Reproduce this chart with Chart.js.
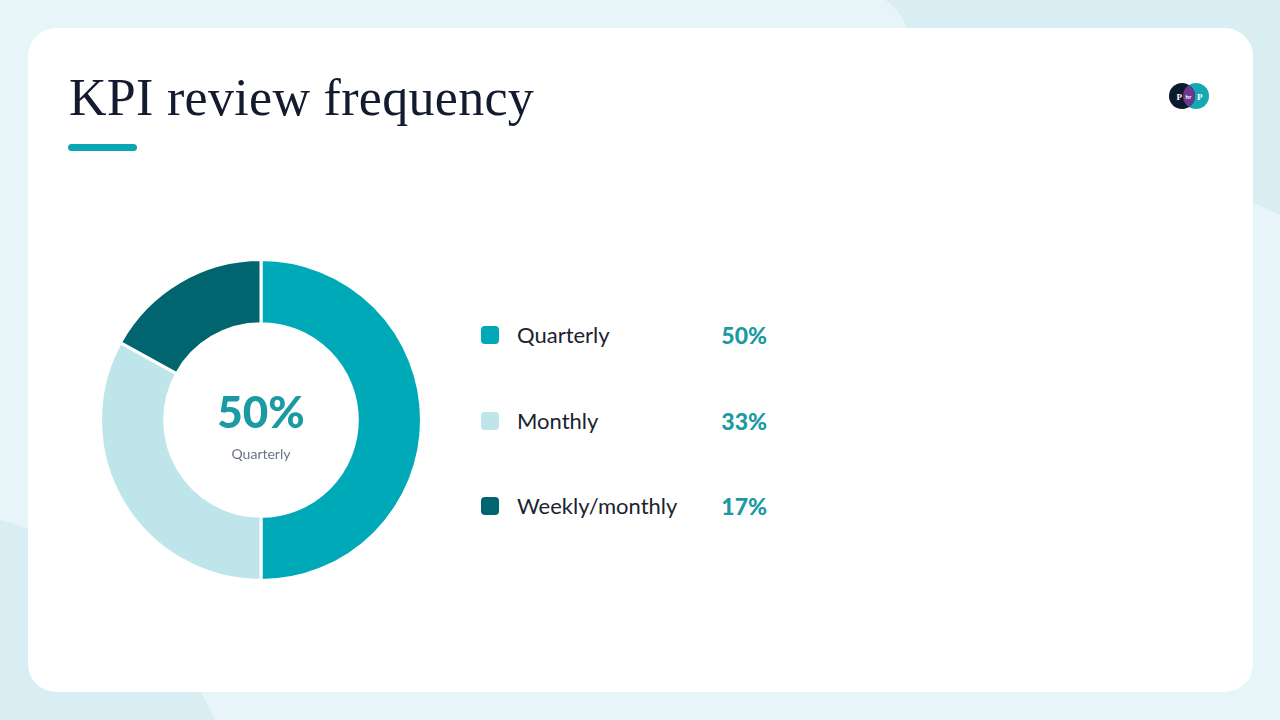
<!DOCTYPE html>
<html>
<head>
<meta charset="utf-8">
<script src="https://cdn.jsdelivr.net/npm/chart.js@4.4.1/dist/chart.umd.min.js"></script>
<style>
  html, body { margin: 0; padding: 0; }
  body { width: 1280px; height: 720px; position: relative; overflow: hidden; background: #e9f5f8; font-family: 'Lato', sans-serif; }
  #bg { position: absolute; left: 0; top: 0; }
  #card { position: absolute; left: 28px; top: 28px; width: 1225px; height: 664px; background: #fff; border-radius: 28px; }
  #title { position: absolute; left: 69px; top: 66px; margin: 0; font-family: 'Liberation Serif', serif; font-weight: 400; font-size: 52px; line-height: 64px; color: #131b2e; letter-spacing: 0.3px; }
  #bar { position: absolute; left: 68px; top: 144px; width: 69px; height: 7px; border-radius: 4px; background: #0ba6b5; }
  #logo { position: absolute; left: 1166px; top: 82px; }
  #chartBox { position: absolute; left: 99px; top: 258px; width: 324px; height: 324px; }
  #center { position: absolute; left: 161px; top: 387px; width: 200px; text-align: center; pointer-events: none; }
  #centerVal { font-weight: 900; font-size: 44px; line-height: 48px; color: #1a9aa3; }
  #centerLab { font-size: 14px; line-height: 20px; color: #6b7383; margin-top: 9px; }
  .row { position: absolute; left: 481px; width: 286px; height: 30px; }
  .sw { position: absolute; left: 0; top: 6px; width: 18px; height: 18px; border-radius: 4px; }
  .lab { position: absolute; left: 36px; top: 0; font-size: 22px; line-height: 30px; color: #1b2230; }
  .val { position: absolute; right: 0; top: 0; font-size: 23px; font-weight: 900; line-height: 30px; color: #1a9aa3; }
</style>
</head>
<body>
<svg id="bg" width="1280" height="720">
  <rect width="1280" height="720" fill="#e8f5f8"/>
  <path d="M885,0 C900,10 905,20 910,40 L1280,215 L1280,0 Z" fill="#d8eef3"/>
  <path d="M0,520 C80,540 160,600 215,720 L0,720 Z" fill="#d8eef3"/>
</svg>
<div id="card"></div>
<h1 id="title">KPI review frequency</h1>
<div id="bar"></div>
<svg id="logo" width="46" height="30">
  <defs>
    <clipPath id="leftC"><circle cx="16" cy="14" r="13"/></clipPath>
  </defs>
  <circle cx="30" cy="14" r="13" fill="#12a9b5"/>
  <circle cx="16" cy="14" r="13" fill="#0d1a2b"/>
  <circle cx="30" cy="14" r="13" fill="#6a3a8e" clip-path="url(#leftC)"/>
  <text x="10.5" y="17.5" font-family="Liberation Serif" font-weight="700" font-size="9" fill="#fff">P</text>
  <text x="19.5" y="17" font-family="Lato" font-weight="700" font-size="6" fill="#fff">hr</text>
  <text x="31" y="17.5" font-family="Liberation Serif" font-weight="700" font-size="9" fill="#fff">P</text>
</svg>
<div id="chartBox"><canvas id="donut"></canvas></div>
<div id="center"><div id="centerVal"></div><div id="centerLab"></div></div>
<div id="legend"></div>

<script>
const categories = ['Quarterly', 'Monthly', 'Weekly/monthly']
const shares = [50, 33, 17]
const sliceColors = ['#00a9b7', '#bde5ea', '#00656e']

// center label shows the biggest slice
document.getElementById('centerVal').textContent = shares[0] + '%'
document.getElementById('centerLab').textContent = categories[0]

// legend rows built from the same arrays
const legend = document.getElementById('legend')
const rowTops = [320, 406, 491]
categories.forEach((name, i) => {
  let row = document.createElement('div')
  row.className = 'row'
  row.style.top = rowTops[i] + 'px'
  row.innerHTML = `<div class="sw" style="background:${sliceColors[i]}"></div>` +
    `<div class="lab">${name}</div><div class="val">${shares[i]}%</div>`
  legend.appendChild(row)
})

let ctx = document.getElementById('donut').getContext('2d')
let chart = new Chart(ctx, {
  type: 'doughnut',
  data: {
    labels: categories,
    datasets: [{
      data: shares,
      backgroundColor: sliceColors,
      borderColor: '#ffffff',
      borderWidth: 3,
      hoverOffset: 0
    }]
  },
  options: {
    responsive: true,
    maintainAspectRatio: false,
    animation: false,
    cutout: '60%',
    layout: { padding: 0 },
    plugins: {
      legend: { display: false },
      tooltip: { enabled: false }
    }
  }
})
</script>
</body>
</html>
